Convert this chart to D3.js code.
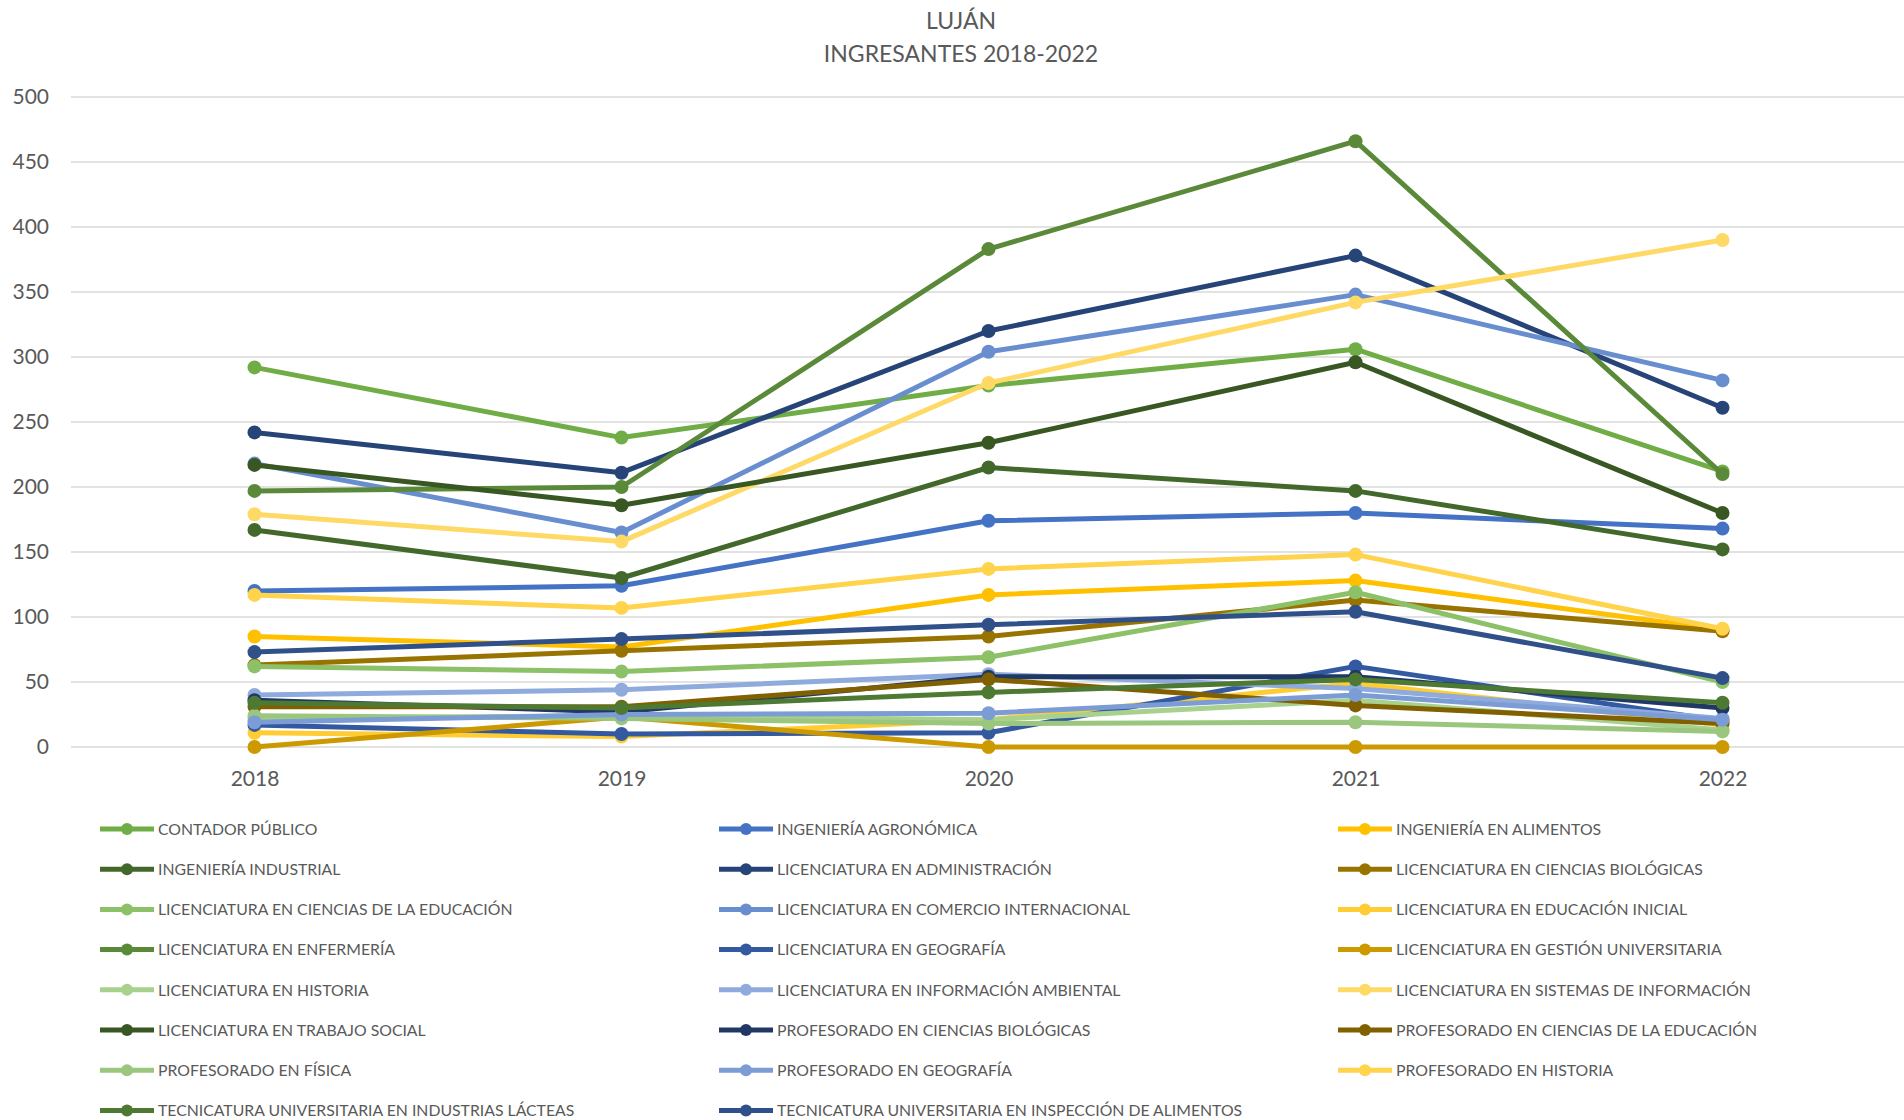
<!DOCTYPE html>
<html lang="es">
<head>
<meta charset="UTF-8">
<title>Luján - Ingresantes 2018-2022</title>
<script src="https://cdnjs.cloudflare.com/ajax/libs/d3/7.8.5/d3.min.js"></script>
<style>
    body { margin: 0; background: #fff; }
    svg { display: block; font-family: Lato, "Open Sans", sans-serif; }
    .grid line { stroke: #d9d9d9; stroke-width: 1.3; }
    .axis text { fill: #595959; font-size: 21px; }
    .title { fill: #595959; font-size: 23px; }
    .legend text { fill: #595959; font-size: 15.8px; }
</style>
</head>
<body>
<div id="chart"></div>
<script>
// years on the x axis
const years = ["2018", "2019", "2020", "2021", "2022"];

// carreras, in legend order
const seriesNames = [
    "CONTADOR PÚBLICO",
    "INGENIERÍA AGRONÓMICA",
    "INGENIERÍA EN ALIMENTOS",
    "INGENIERÍA INDUSTRIAL",
    "LICENCIATURA EN ADMINISTRACIÓN",
    "LICENCIATURA EN CIENCIAS BIOLÓGICAS",
    "LICENCIATURA EN CIENCIAS DE LA EDUCACIÓN",
    "LICENCIATURA EN COMERCIO INTERNACIONAL",
    "LICENCIATURA EN EDUCACIÓN INICIAL",
    "LICENCIATURA EN ENFERMERÍA",
    "LICENCIATURA EN GEOGRAFÍA",
    "LICENCIATURA EN GESTIÓN UNIVERSITARIA",
    "LICENCIATURA EN HISTORIA",
    "LICENCIATURA EN INFORMACIÓN AMBIENTAL",
    "LICENCIATURA EN SISTEMAS DE INFORMACIÓN",
    "LICENCIATURA EN TRABAJO SOCIAL",
    "PROFESORADO EN CIENCIAS BIOLÓGICAS",
    "PROFESORADO EN CIENCIAS DE LA EDUCACIÓN",
    "PROFESORADO EN FÍSICA",
    "PROFESORADO EN GEOGRAFÍA",
    "PROFESORADO EN HISTORIA",
    "TECNICATURA UNIVERSITARIA EN INDUSTRIAS LÁCTEAS",
    "TECNICATURA UNIVERSITARIA EN INSPECCIÓN DE ALIMENTOS"
];

const seriesColors = [
    "#70AD47", "#4472C4", "#FFC000",
    "#43682B", "#264478", "#997300",
    "#8CC168", "#698ED0", "#FFCD33",
    "#5A8A39", "#335AA1", "#CC9A00",
    "#A9D18E", "#8FAADC", "#FFD966",
    "#385723", "#203864", "#806000",
    "#9BC67E", "#7C9CD6", "#FFD34C",
    "#4E7932", "#2F5089"
];

// ingresantes per year (2018..2022), same order as seriesNames
const seriesValues = [
    [292, 238, 278, 306, 212],
    [120, 124, 174, 180, 168],
    [85, 77, 117, 128, 90],
    [167, 130, 215, 197, 152],
    [242, 211, 320, 378, 261],
    [63, 74, 85, 113, 89],
    [62, 58, 69, 119, 50],
    [218, 165, 304, 348, 282],
    [11, 8, 21, 49, 17],
    [197, 200, 383, 466, 210],
    [17, 10, 11, 62, 20],
    [0, 23, 0, 0, 0],
    [22, 24, 21, 36, 13],
    [40, 44, 56, 45, 22],
    [179, 158, 280, 342, 390],
    [217, 186, 234, 296, 180],
    [36, 27, 54, 54, 30],
    [31, 31, 52, 32, 18],
    [24, 22, 18, 19, 12],
    [19, 25, 26, 40, 21],
    [117, 107, 137, 148, 91],
    [34, 30, 42, 52, 34],
    [73, 83, 94, 104, 53]
];

const yTicks = [0, 50, 100, 150, 200, 250, 300, 350, 400, 450, 500];

const width = 1904;
const height = 1120;
const plotLeft = 71, plotRight = 1906, plotTop = 97, plotBottom = 747;

const svg = d3.select("#chart").append("svg")
    .attr("width", width)
    .attr("height", height);

// title
svg.append("text").attr("class", "title")
    .attr("x", 961).attr("y", 29)
    .attr("text-anchor", "middle")
    .text("LUJÁN");
svg.append("text").attr("class", "title")
    .attr("x", 961).attr("y", 62)
    .attr("text-anchor", "middle")
    .text("INGRESANTES 2018-2022");

const x = d3.scalePoint()
    .domain(years)
    .range([plotLeft, plotRight])
    .padding(0.5);

const y = d3.scaleLinear()
    .domain([0, 500])
    .range([plotBottom, plotTop]);

// gridlines
svg.append("g").attr("class", "grid")
    .selectAll("line")
    .data(yTicks)
    .join("line")
    .attr("x1", plotLeft).attr("x2", width)
    .attr("y1", d => y(d)).attr("y2", d => y(d));

// y axis labels
const yAxis = svg.append("g").attr("class", "axis")
    .attr("transform", `translate(${plotLeft - 10},0)`)
    .call(d3.axisLeft(y).tickValues(yTicks).tickSize(0).tickPadding(12));
yAxis.select(".domain").remove();

// x axis labels
const xAxis = svg.append("g").attr("class", "axis")
    .attr("transform", `translate(0,${plotBottom + 14})`)
    .call(d3.axisBottom(x).tickSize(0).tickPadding(10));
xAxis.select(".domain").remove();
svg.selectAll(".axis text").style("font-family", "Lato, 'Open Sans', sans-serif").style("font-size", "21px").attr("fill", "#595959");

// lines + markers
const line = d3.line()
    .x((d, i) => x(years[i]))
    .y(d => y(d));

const series = svg.append("g").selectAll("g")
    .data(seriesValues)
    .join("g");

series.append("path")
    .attr("d", d => line(d))
    .attr("fill", "none")
    .attr("stroke", (d, i) => seriesColors[i])
    .attr("stroke-width", 5)
    .attr("stroke-linejoin", "round");

series.each(function(vals, i) {
    d3.select(this).selectAll("circle")
        .data(vals)
        .join("circle")
        .attr("cx", (d, j) => x(years[j]))
        .attr("cy", d => y(d))
        .attr("r", 7)
        .attr("fill", seriesColors[i]);
});

// legend, 3 columns
const legend = svg.append("g").attr("class", "legend");
const colX = [100, 719, 1338];
const legendItems = legend.selectAll("g")
    .data(seriesNames)
    .join("g")
    .attr("transform", (d, i) => `translate(${colX[i % 3]},${829 + Math.floor(i / 3) * 40.2})`);

legendItems.append("line")
    .attr("x1", 0).attr("x2", 54)
    .attr("stroke", (d, i) => seriesColors[i])
    .attr("stroke-width", 5);
legendItems.append("circle")
    .attr("cx", 27).attr("r", 6)
    .attr("fill", (d, i) => seriesColors[i]);
legendItems.append("text")
    .attr("x", 58).attr("dy", "0.36em")
    .text(d => d);
</script>
</body>
</html>
